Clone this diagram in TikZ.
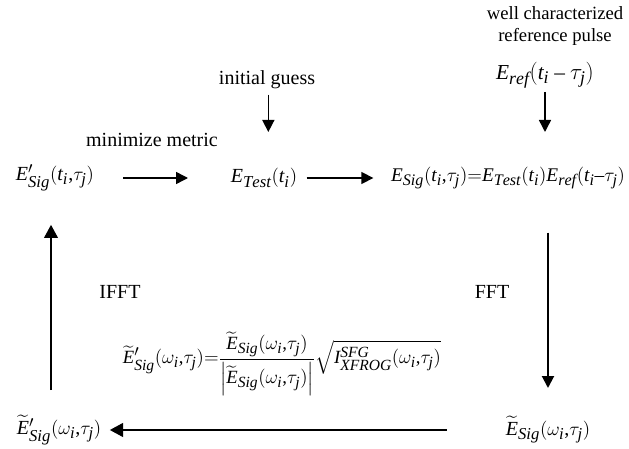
\documentclass[tikz,border=0pt,12pt]{standalone}
\usepackage{amsmath,amssymb}
\usepackage{fontspec}
\setmainfont{Liberation Serif}
\usepackage[italic]{mathastext}
\usetikzlibrary{arrows.meta}

\tikzset{
  flow/.style={-{Triangle[length=9pt,width=9pt]}, line width=1.1pt},
  bigflow/.style={-{Triangle[length=10pt,width=10pt]}, line width=2.2pt},
  lbl/.style={inner sep=1pt, font=\fontsize{15}{19}\selectfont}
}

\begin{document}
\begin{tikzpicture}[x=0.75pt,y=-0.75pt]
  % Frame (pixel coordinates, y downward)
  \useasboundingbox (0,0) rectangle (629,449);

  % Reference pulse input
  \node[lbl, align=center, font=\fontsize{14}{17}\selectfont] (refpulse) at (555,26) {well characterized\\reference pulse};
  \node[lbl, font=\fontsize{16}{19}\selectfont] (eref) at (545,75) {$E_{ref}(t_i-\tau_j)$};

  % Initial guess input
  \node[lbl] (guess) at (267,80) {initial guess};
  \node[lbl] (minmetric) at (152,140) {minimize metric};

  % Time domain row
  \node[lbl] (esigp) at (55,178) {$E^{\prime}_{Sig}(t_i{,}\tau_j)$};
  \node[lbl] (etest) at (264,178) {$E_{Test}(t_i)$};
  \node[lbl, font=\fontsize{14.5}{17}\selectfont] (esig) at (508,178) {$E_{Sig}(t_i{,}\tau_j){=}E_{Test}(t_i)E_{ref}(t_i{-}\tau_j)$};

  % Transforms
  \node[lbl] (ifft) at (120,292) {IFFT};
  \node[lbl] (fft) at (492,292) {FFT};

  % Magnitude replacement
  \node[lbl, font=\fontsize{14}{17}\selectfont] (constraint) at (282,364) {$\widetilde{E}^{\prime}_{Sig}(\omega_i{,}\tau_j){=}\dfrac{\widetilde{E}_{Sig}(\omega_i{,}\tau_j)\rule[-4pt]{0pt}{4pt}}{\Bigl|\widetilde{E}_{Sig}(\omega_i{,}\tau_j)\Bigr|}\sqrt{I^{SFG}_{XFROG}(\omega_i{,}\tau_j)}$};

  % Frequency domain row
  \node[lbl] (wsigp) at (59,430) {$\widetilde{E}^{\prime}_{Sig}(\omega_i{,}\tau_j)$};
  \node[lbl] (wsig) at (548,430) {$\widetilde{E}_{Sig}(\omega_i{,}\tau_j)$};

  % Connectors (shortened from node centres)
  \draw[flow, shorten <=11pt, shorten >=34.5pt] ([xshift=1pt]guess.center) -- ([xshift=1pt]guess.center |- etest.center);
  \draw[flow, shorten <=12.75pt, shorten >=34.5pt] (eref.center) -- (eref.center |- esig.center);
  \draw[flow, shorten <=51pt, shorten >=57pt] (esigp.center) -- (esigp.center -| etest.center);
  \draw[flow, shorten <=32pt, shorten >=101pt] (etest.center) -- (etest.center -| esig.center);
  \draw[flow, line width=1.5pt, shorten <=41pt, shorten >=31.5pt] (esig.center -| wsig.center) -- (wsig.center);
  \draw[bigflow, shorten <=76pt, shorten >=38pt] (wsig.center) -- (wsig.center -| wsigp.center);
  \draw[bigflow, shorten <=30pt, shorten >=35pt] ([xshift=-6pt]wsigp.center) -- ([xshift=-6pt]wsigp.center |- esigp.center);
\end{tikzpicture}
\end{document}
